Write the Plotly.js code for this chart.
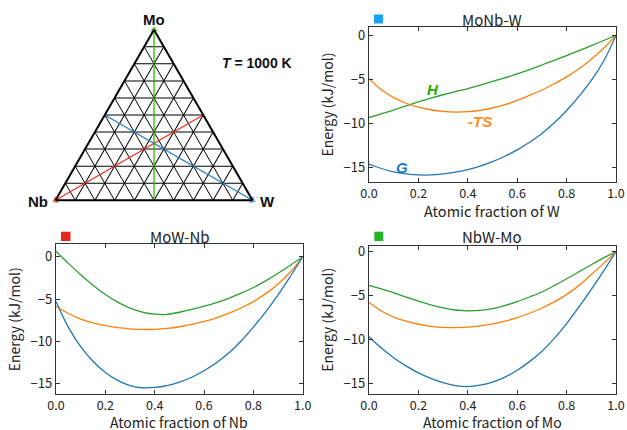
<!DOCTYPE html>
<html>
<head>
<meta charset="utf-8">
<script src="https://cdn.plot.ly/plotly-3.0.1.min.js"></script>
<style>html,body{margin:0;padding:0;background:#fff;}#chart{width:627px;height:430px;}</style>
</head>
<body>
<div id="chart"></div>
<script>
// Atomic fraction grid (shared by all three panels)
const frac = [0, 0.05, 0.1, 0.15, 0.2, 0.25, 0.3, 0.35, 0.4, 0.45, 0.5, 0.55, 0.6, 0.65, 0.7, 0.75, 0.8, 0.85, 0.9, 0.95, 1.0];

// MoNb-W (fraction of W)
const monbw_H  = [-9.3, -8.88, -8.45, -7.97, -7.52, -7.1, -6.72, -6.37, -6.02, -5.63, -5.22, -4.8, -4.36, -3.87, -3.35, -2.82, -2.28, -1.73, -1.16, -0.58, 0];
const monbw_TS = [-4.9, -6.15, -7.05, -7.68, -8.12, -8.42, -8.6, -8.68, -8.64, -8.48, -8.22, -7.85, -7.36, -6.8, -6.18, -5.48, -4.7, -3.78, -2.7, -1.45, 0];
const monbw_G  = [-14.57, -15.07, -15.45, -15.67, -15.8, -15.8, -15.68, -15.48, -15.2, -14.8, -14.3, -13.68, -12.96, -12.1, -11.1, -9.9, -8.5, -6.9, -5.1, -2.9, 0];

// MoW-Nb (fraction of Nb)
const mownb_H  = [0.65, -0.78, -2.12, -3.35, -4.45, -5.35, -6.05, -6.52, -6.78, -6.8, -6.55, -6.22, -5.84, -5.4, -4.9, -4.3, -3.63, -2.85, -1.95, -1.0, 0];
const mownb_TS = [-5.84, -6.7, -7.37, -7.8, -8.13, -8.36, -8.5, -8.58, -8.56, -8.45, -8.26, -7.98, -7.63, -7.2, -6.68, -6.05, -5.3, -4.35, -3.2, -1.8, 0];
const mownb_G  = [-5.27, -8.3, -10.6, -12.33, -13.66, -14.6, -15.2, -15.46, -15.42, -15.2, -14.8, -14.22, -13.45, -12.5, -11.37, -9.95, -8.3, -6.5, -4.5, -2.3, 0];

// NbW-Mo (fraction of Mo)
const nbwmo_H  = [-3.84, -4.26, -4.7, -5.18, -5.65, -6.07, -6.42, -6.65, -6.75, -6.7, -6.5, -6.15, -5.7, -5.17, -4.6, -3.88, -3.1, -2.3, -1.5, -0.73, 0];
const nbwmo_TS = [-5.78, -6.77, -7.45, -7.92, -8.27, -8.5, -8.63, -8.66, -8.6, -8.45, -8.23, -7.92, -7.52, -7.02, -6.42, -5.72, -4.9, -3.85, -2.62, -1.35, 0];
const nbwmo_G  = [-9.7, -10.98, -12.07, -13.0, -13.8, -14.42, -14.92, -15.25, -15.37, -15.2, -14.85, -14.28, -13.5, -12.52, -11.34, -9.88, -8.2, -6.3, -4.3, -2.2, 0];

// Ternary composition paths (a = Mo, b = Nb, c = W)
const pathMo = {a: [0, 1],   b: [0.5, 0], c: [0.5, 0]};   // NbW -> Mo
const pathNb = {a: [0.5, 0], b: [0, 1],   c: [0.5, 0]};   // MoW -> Nb
const pathW  = {a: [0.5, 0], b: [0.5, 0], c: [0, 1]};     // MoNb -> W

const panelTitles = ['MoNb-W', 'MoW-Nb', 'NbW-Mo'];
const xTitles = ['Atomic fraction of W', 'Atomic fraction of Nb', 'Atomic fraction of Mo'];
const yTitle = 'Energy (kJ/mol)';

const cG = '#1f77b4', cTS = '#ff7f0e', cH = '#2ca02c';
const lw = 1.3;
const font = '"Noto Sans CJK JP", "Noto Sans", sans-serif';
const bold = '"Liberation Sans", Arial, sans-serif';

function curves(xa, ya, H, TS, G) {
  const base = {x: frac, xaxis: xa, yaxis: ya, mode: 'lines', showlegend: false, hoverinfo: 'skip'};
  return [
    Object.assign({}, base, {y: H,  line: {color: cH,  width: lw, shape: 'spline', smoothing: 1}}),
    Object.assign({}, base, {y: TS, line: {color: cTS, width: lw, shape: 'spline', smoothing: 1}}),
    Object.assign({}, base, {y: G,  line: {color: cG,  width: lw, shape: 'spline', smoothing: 1}})
  ];
}

function tern(p, color, ang) {
  return {type: 'scatterternary', a: p.a, b: p.b, c: p.c, mode: 'lines+markers',
    line: {color: color, width: 1.3},
    marker: {symbol: 'triangle-up', size: [0, 7], angle: ang, color: color, line: {width: 0}},
    showlegend: false, hoverinfo: 'skip', cliponaxis: false};
}

const data = [
  tern(pathMo, '#33b800', 0),
  tern(pathNb, '#e8321e', -120),
  tern(pathW, '#1f7fc4', 120),
  ...curves('x', 'y', monbw_H, monbw_TS, monbw_G),
  ...curves('x2', 'y2', mownb_H, mownb_TS, mownb_G),
  ...curves('x3', 'y3', nbwmo_H, nbwmo_TS, nbwmo_G)
];

function xax(dom, anchor) {
  return {domain: dom, anchor: anchor, range: [0, 1], dtick: 0.2, tick0: 0, tickformat: '.1f',
    ticks: 'inside', ticklen: 4, tickcolor: '#333', showline: true, linecolor: '#333', linewidth: 1.2,
    mirror: 'ticks', showgrid: false, zeroline: false,
    tickfont: {size: 12.5, color: '#222', family: font}};
}
function yax(dom, anchor, rng) {
  return {domain: dom, anchor: anchor, range: rng, dtick: 5, tick0: 0,
    ticks: 'inside', ticklen: 4, tickcolor: '#333', showline: true, linecolor: '#333', linewidth: 1.2,
    mirror: 'ticks', showgrid: false, zeroline: false,
    tickfont: {size: 13, color: '#222', family: font},
    title: {text: yTitle, font: {size: 14, color: '#222', family: font}, standoff: 6}};
}

const tAx = {showticklabels: false, ticks: '', dtick: 0.1, tick0: 0, showgrid: true,
  gridcolor: '#000', gridwidth: 1, linecolor: '#000', linewidth: 2, title: {text: ''}};

function ann(text, x, y, size, fam, color) {
  return {text: text, xref: 'paper', yref: 'paper', x: x / 627, y: 1 - y / 430,
    xanchor: 'center', yanchor: 'middle', showarrow: false, font: {size: size, family: fam, color: color}};
}
function lab(text, x, y, color) {
  return {text: text, xref: 'x', yref: 'y', x: x, y: y, xanchor: 'center', yanchor: 'middle',
    showarrow: false, font: {size: 15, family: bold, color: color}};
}

const layout = {
  width: 627, height: 430,
  margin: {l: 0, r: 0, t: 0, b: 0},
  paper_bgcolor: '#fff', plot_bgcolor: '#fff',
  font: {family: font, color: '#222'},
  showlegend: false,
  ternary: {domain: {x: [55.5 / 627, 252.5 / 627], y: [1 - 200.3 / 430, 1 - 29.7 / 430]}, sum: 1, bgcolor: '#fff',
    aaxis: tAx, baxis: tAx, caxis: tAx},
  xaxis: xax([0.5885, 0.9825], 'y'),
  yaxis: yax([0.5767, 0.9372], 'x', [-16.6, 0.95]),
  xaxis2: xax([0.0893, 0.4828], 'y2'),
  yaxis2: yax([1 - 394 / 430, 0.4314], 'x2', [-16.2, 1.45]),
  xaxis3: xax([0.5885, 0.9825], 'y3'),
  yaxis3: yax([1 - 394 / 430, 0.4286], 'x3', [-16.2, 0.66]),
  shapes: [
    {type: 'rect', xref: 'paper', yref: 'paper', x0: 374 / 627, x1: 383 / 627, y0: 1 - 23.5 / 430, y1: 1 - 14.5 / 430, fillcolor: '#1aa0f5', line: {width: 0}},
    {type: 'rect', xref: 'paper', yref: 'paper', x0: 61 / 627, x1: 70.5 / 627, y0: 1 - 241 / 430, y1: 1 - 231.7 / 430, fillcolor: '#e8281e', line: {width: 0}},
    {type: 'rect', xref: 'paper', yref: 'paper', x0: 374.3 / 627, x1: 383.3 / 627, y0: 1 - 241 / 430, y1: 1 - 231.7 / 430, fillcolor: '#28b428', line: {width: 0}}
  ],
  annotations: [
    ann('<b>Mo</b>', 154, 19, 15, bold, '#111'),
    ann('<b>Nb</b>', 38, 201, 15, bold, '#111'),
    ann('<b>W</b>', 267, 201, 15, bold, '#111'),
    ann('<b><i>T</i> = 1000 K</b>', 257, 63, 14, bold, '#111'),
    ann(panelTitles[0], 492, 19, 15, font, '#222'),
    ann(panelTitles[1], 180, 236, 15, font, '#222'),
    ann(panelTitles[2], 492, 236, 15, font, '#222'),
    ann(xTitles[0], 492, 210, 14.5, font, '#222'),
    ann(xTitles[1], 179, 421.5, 14, font, '#222'),
    ann(xTitles[2], 492, 421.5, 14, font, '#222'),
    lab('<b><i>H</i></b>', 0.258, -6.1, '#2aa800'),
    lab('<b><i>-TS</i></b>', 0.449, -9.7, '#ff8c1a'),
    lab('<b><i>G</i></b>', 0.133, -15.0, '#1f77c4')
  ]
};

Plotly.newPlot('chart', data, layout, {displayModeBar: false, staticPlot: true});
</script>
</body>
</html>
